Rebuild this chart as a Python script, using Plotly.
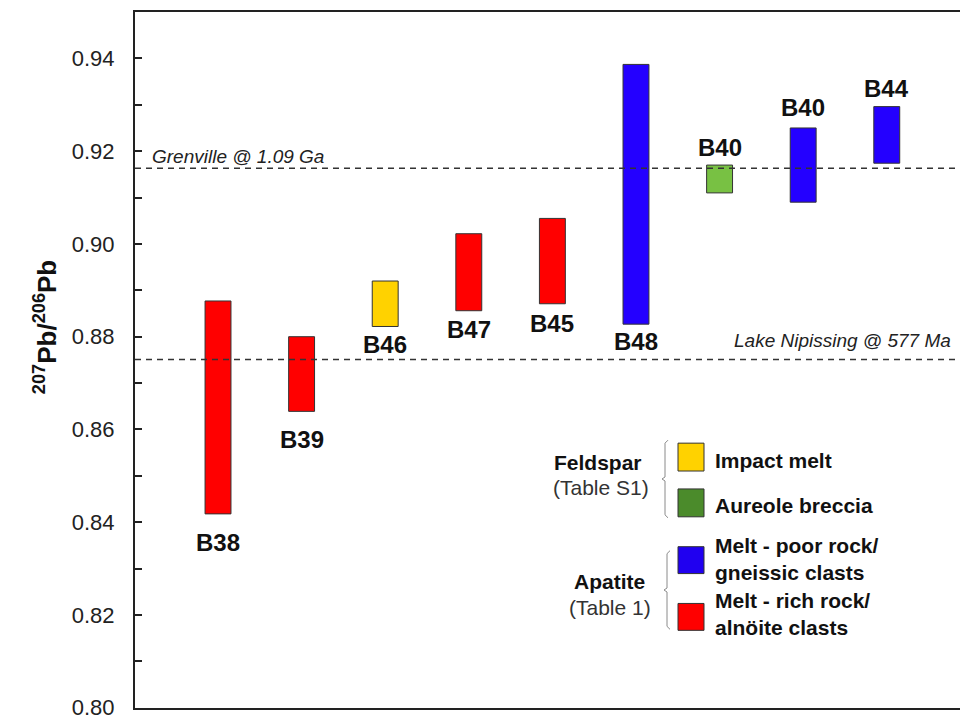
import plotly.graph_objects as go

# Sample ranges of 207Pb/206Pb (low / high end of each bar)
samples = ["B38", "B39", "B46", "B47", "B45", "B48", "B40", "B40", "B44"]
ratio_low = [0.8418, 0.8639, 0.8822, 0.8856, 0.8871, 0.8827, 0.9110, 0.9090, 0.9174]
ratio_high = [0.8877, 0.8800, 0.8920, 0.9022, 0.9055, 0.9387, 0.9170, 0.9250, 0.9296]
rock_type = ["rich", "rich", "impact", "rich", "rich", "poor", "aureole", "poor", "poor"]

# Reference lead compositions
ref_names = ["Grenville @ 1.09 Ga", "Lake Nipissing @ 577 Ma"]
ref_values = [0.9163, 0.8751]

# Y-axis ticks
y_ticks = [0.80, 0.82, 0.84, 0.86, 0.88, 0.90, 0.92, 0.94]

# Styling
bar_colors = {"rich": "#ff0000", "poor": "#2400ff", "impact": "#ffd200", "aureole": "#78c143"}
label_side = ["below", "below", "below", "below", "below", "below", "above", "above", "above"]
label_gap = [13, 13, 3, 3, 4, 2, 2, 5, 3]

FONT = "Arial, Liberation Sans, sans-serif"
W, H = 960, 720
ML, MT, MB, MR = 135, 12, 9, 0
PW, PH = W - ML - MR, H - MT - MB


def px(x):
    return (x - ML) / PW


def py(y):
    return (H - MB - y) / PH


positions = list(range(len(samples)))

fig = go.Figure()
fig.add_trace(go.Bar(
    x=positions,
    y=[h - l for h, l in zip(ratio_high, ratio_low)],
    base=ratio_low,
    width=0.31,
    marker=dict(color=[bar_colors[t] for t in rock_type],
                line=dict(color="#333333", width=1)),
    hoverinfo="skip",
    showlegend=False,
))

annotations = []
# sample labels
for i, name in enumerate(samples):
    below = label_side[i] == "below"
    annotations.append(dict(x=positions[i], y=ratio_low[i] if below else ratio_high[i],
                            xref="x", yref="y", text=f"<b>{name}</b>", showarrow=False,
                            yanchor="top" if below else "bottom",
                            yshift=-label_gap[i] if below else label_gap[i],
                            font=dict(family=FONT, size=24, color="#111111")))

shapes = []
# reference lines
for v in ref_values:
    shapes.append(dict(type="line", xref="paper", yref="y", x0=0, x1=1, y0=v, y1=v,
                       line=dict(color="#333333", width=1.5, dash="6px,5px")))

annotations.append(dict(x=px(150), y=ref_values[0], xref="paper", yref="y",
                        text=f"<i>{ref_names[0]}</i>", showarrow=False,
                        xanchor="left", yanchor="bottom", yshift=-1,
                        font=dict(family=FONT, size=19, color="#222222")))
annotations.append(dict(x=px(953), y=ref_values[1], xref="paper", yref="y",
                        text=f"<i>{ref_names[1]}</i>", showarrow=False,
                        xanchor="right", yanchor="bottom", yshift=6,
                        font=dict(family=FONT, size=19, color="#222222")))

# y-axis title
annotations.append(dict(x=px(27), y=py(328), xref="paper", yref="paper",
                        text="<b><sup>207</sup>Pb/<sup>206</sup>Pb</b>", showarrow=False,
                        textangle=-90, font=dict(family=FONT, size=26, color="#111111")))

# legend key
legend_items = [
    ("Impact melt", "#ffd200", 445, 473, 462),
    ("Aureole breccia", "#4b8b2b", 491, 519, 508),
    ("Melt - poor rock/<br>gneissic clasts", "#2000f0", 549, 576, 561),
    ("Melt - rich rock/<br>alnöite clasts", "#ff0000", 606, 633, 617),
]
for text, color, y0, y1, ty in legend_items:
    shapes.append(dict(type="rect", xref="paper", yref="paper",
                       x0=px(678), x1=px(704), y0=py(y1), y1=py(y0),
                       fillcolor=color, line=dict(color="#333333", width=1)))
    annotations.append(dict(x=px(713), y=py(ty), xref="paper", yref="paper",
                            text=f"<b>{text}</b>", showarrow=False, xanchor="left",
                            yanchor="middle", align="left",
                            font=dict(family=FONT, size=21, color="#111111")))

# group brackets
for top, bot, xb in [(442, 520, 665), (553, 632, 667)]:
    mid = (top + bot) / 2
    path = (f"M {px(xb + 3)},{py(top)} L {px(xb)},{py(top + 3)} "
            f"L {px(xb)},{py(mid - 2)} L {px(xb - 3)},{py(mid)} "
            f"L {px(xb)},{py(mid + 2)} L {px(xb)},{py(bot - 3)} L {px(xb + 3)},{py(bot)}")
    shapes.append(dict(type="path", xref="paper", yref="paper", path=path,
                       line=dict(color="#8a8a8a", width=1)))

for text, x, y, bold in [("Feldspar", 598, 464, True), ("(Table S1)", 601, 490, False),
                         ("Apatite", 609, 584, True), ("(Table 1)", 610, 610, False)]:
    annotations.append(dict(x=px(x), y=py(y), xref="paper", yref="paper",
                            text=f"<b>{text}</b>" if bold else text, showarrow=False,
                            xanchor="center", yanchor="middle",
                            font=dict(family=FONT, size=21,
                                      color="#111111" if bold else "#333333")))

fig.update_layout(
    width=W, height=H,
    margin=dict(l=ML, r=MR, t=MT, b=MB),
    paper_bgcolor="white", plot_bgcolor="white",
    shapes=shapes, annotations=annotations,
    showlegend=False,
    xaxis=dict(range=[-0.993, 8.876], showticklabels=False, ticks="", showgrid=False,
               zeroline=False, showline=True, linecolor="#222222", linewidth=2,
               mirror=True),
    yaxis=dict(range=[0.79995, 0.95], tickvals=y_ticks, tickformat=".2f",
               ticks="inside", ticklen=7, tickcolor="#222222", tickwidth=1.5,
               minor=dict(dtick=0.01, ticks="inside", ticklen=7, tickcolor="#222222",
                          tickwidth=1.5),
               showgrid=False, zeroline=False, showline=True, linecolor="#222222",
               linewidth=2, ticklabelstandoff=14, ticklabeloverflow="allow",
               tickfont=dict(family=FONT, size=22, color="#222222")),
)

fig.write_html("out.html")
